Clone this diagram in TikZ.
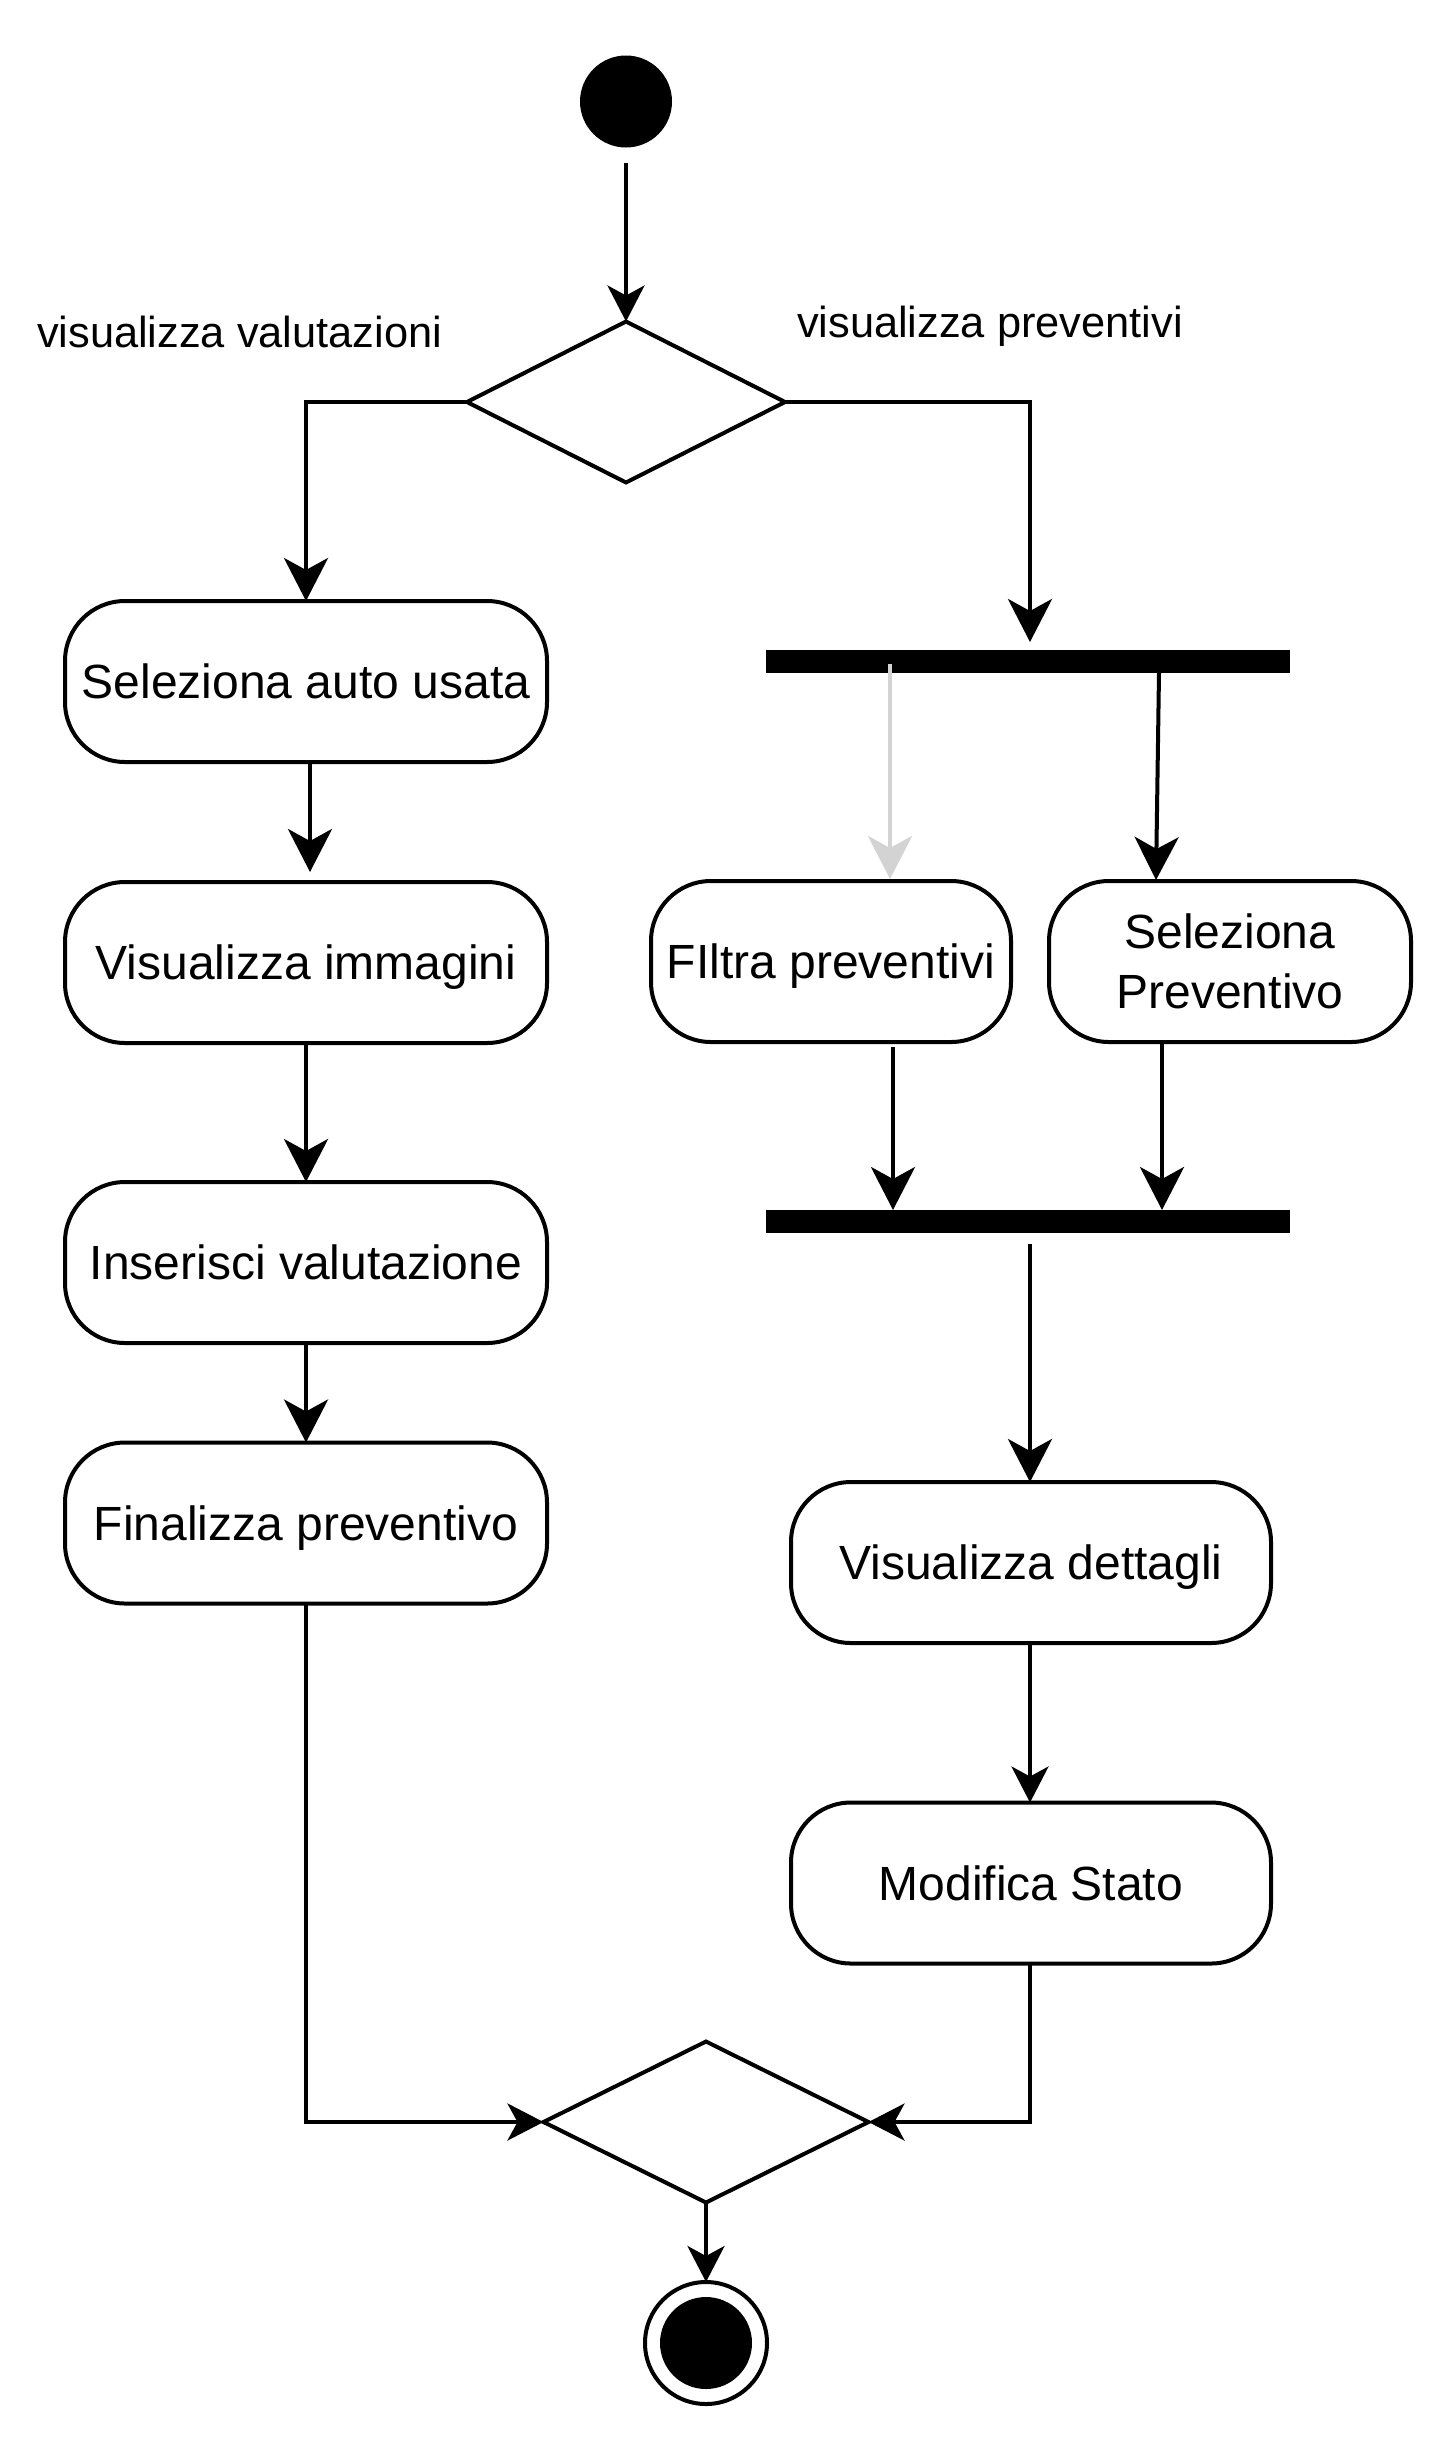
\documentclass[tikz,border=0pt]{standalone}
\usepackage{fontspec}
\setmainfont{Liberation Sans}
\usetikzlibrary{arrows.meta,shapes.geometric,calc}
\definecolor{lgray}{RGB}{211,211,211}
\begin{document}
\begin{tikzpicture}[x=1pt,y=-1pt,
  box/.style={draw, line width=4pt, rounded corners=60pt, minimum height=161pt,
    inner sep=0pt, outer sep=0pt, font=\fontsize{48}{60}\selectfont, align=center},
  one/.style={text height=34.4pt, text depth=0pt},
  dec/.style={diamond, draw, line width=4pt, minimum height=161pt, inner sep=0pt, outer sep=0pt},
  bar/.style={rectangle, fill=black, minimum width=524pt, minimum height=23pt, inner sep=0pt, outer sep=0pt},
  startc/.style={circle, fill=black, minimum size=92pt, inner sep=0pt, outer sep=0pt},
  lbl/.style={font=\fontsize{43.4}{52}\selectfont, inner sep=0pt, outer sep=0pt},
  arrL/.style={line width=4pt, -{Stealth[length=43pt,width=44pt,inset=12pt]}},
  arrS/.style={line width=4pt, -{Stealth[length=36pt,width=37pt,inset=10pt]}}]
\fill[white] (0,0) rectangle (1456,2444);
\useasboundingbox (0,0) rectangle (1456,2444);

\node[startc] (start) at (626,101.5) {};
\node[dec, minimum width=318pt] (d1) at (626,402) {};
\node[lbl, anchor=base west] (lblL) at (37,347) {visualizza valutazioni};
\node[lbl, anchor=base west] (lblR) at (797,337) {visualizza preventivi};

\node[box, one, minimum width=482pt] (A) at (306,681.5) {Seleziona auto usata};
\node[box, one, minimum width=482pt] (B) at (306,962.5) {Visualizza immagini};
\node[box, one, minimum width=482pt] (C) at (306,1262.5) {Inserisci valutazione};
\node[box, one, minimum width=482pt] (D) at (306,1523) {Finalizza preventivo};

\node[bar] (bar1) at (1028,661.5) {};
\node[box, one, minimum width=360pt] (E) at (831,961.5) {FIltra preventivi};
\node[box, minimum width=362pt] (F) at (1230,961.5) {Seleziona\\Preventivo};
\node[bar] (bar2) at (1028,1221.5) {};
\node[box, one, minimum width=480pt] (G) at (1031,1562.5) {Visualizza dettagli};
\node[box, one, minimum width=480pt] (H) at (1031,1883) {Modifica Stato};

\node[dec, minimum width=325pt] (d2) at (706,2122) {};
\node[circle, draw, line width=4pt, minimum size=122pt, inner sep=0pt, outer sep=0pt] (fin) at (706,2343) {};
\node[startc] (finin) at (706,2343) {};

\draw[arrS] ([yshift=-15pt]start.south) -- (d1.north);
\draw[arrL] (d1.west) -| (A.north);
\draw[arrL] (d1.east) -| ([xshift=2pt,yshift=8pt]bar1.north);
\draw[arrL] ([xshift=4pt]A.south) -- ([xshift=4pt,yshift=10pt]B.north);
\draw[arrL] (B.south) -- (C.north);
\draw[arrL] (C.south) -- (D.north);
\draw[arrL, lgray] ($(E.north |- bar1.center)+(59,2)$) -- ([xshift=59pt,yshift=2pt]E.north);
\draw[arrL] ([xshift=131pt]bar1.south) -- ([xshift=-74pt,yshift=1pt]F.north);
\draw[arrL] ([xshift=62pt,yshift=-5pt]E.south) -- ($(E.south |- bar2.north)+(62,0)$);
\draw[arrL] ([xshift=-68pt]F.south) -- ($(F.south |- bar2.north)+(-68,0)$);
\draw[arrL] ([xshift=2pt,yshift=-11pt]bar2.south) -- ([xshift=-1pt]G.north);
\draw[arrS] ([xshift=-1pt]G.south) -- ([xshift=-1pt]H.north);
\draw[arrS] ([xshift=-1pt]H.south) |- (d2.east);
\draw[arrS] (D.south) |- (d2.west);
\draw[arrS] (d2.south) -- (fin.north);
\end{tikzpicture}
\end{document}
